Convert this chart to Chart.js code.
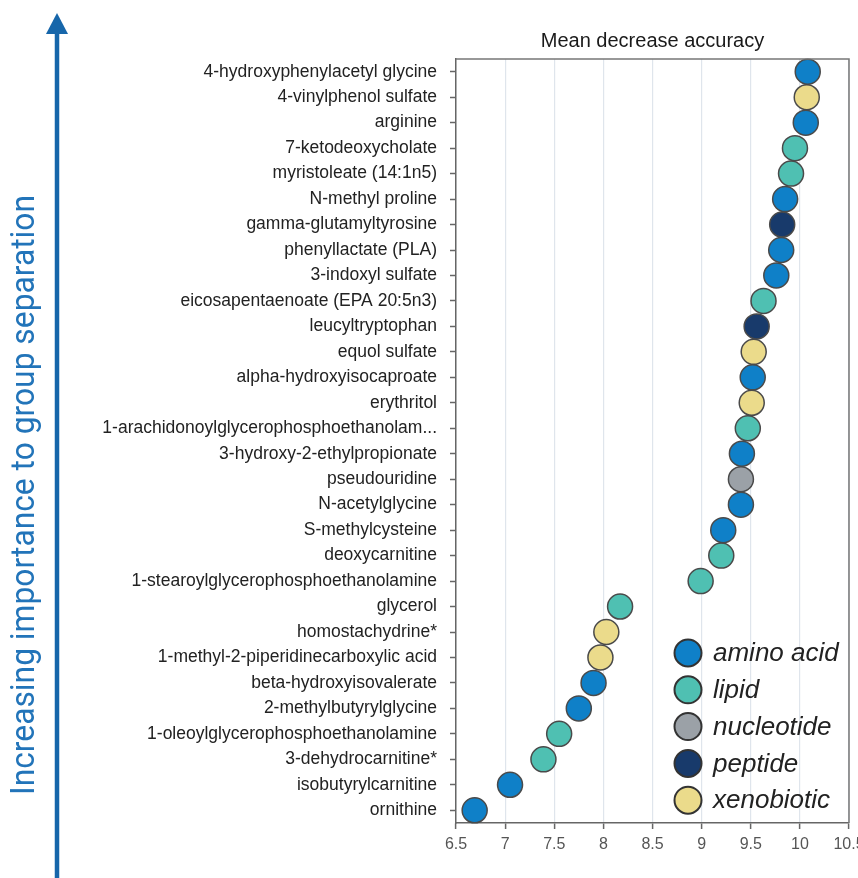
<!DOCTYPE html>
<html>
<head>
<meta charset="utf-8">
<script src="https://cdn.jsdelivr.net/npm/chart.js@4.4.1/dist/chart.umd.min.js"></script>
<style>
  html, body { margin: 0; padding: 0; background: #fff; }
  #wrap { width: 858px; height: 878px; position: relative; }
</style>
</head>
<body>
<div id="wrap"><canvas id="chart"></canvas></div>
<script>
// --- Données ---
const metabolites = [
  "4-hydroxyphenylacetyl glycine", "4-vinylphenol sulfate", "arginine",
  "7-ketodeoxycholate", "myristoleate (14:1n5)", "N-methyl proline",
  "gamma-glutamyltyrosine", "phenyllactate (PLA)", "3-indoxyl sulfate",
  "eicosapentaenoate (EPA 20:5n3)", "leucyltryptophan", "equol sulfate",
  "alpha-hydroxyisocaproate", "erythritol", "1-arachidonoylglycerophosphoethanolam...",
  "3-hydroxy-2-ethylpropionate", "pseudouridine", "N-acetylglycine",
  "S-methylcysteine", "deoxycarnitine", "1-stearoylglycerophosphoethanolamine",
  "glycerol", "homostachydrine*", "1-methyl-2-piperidinecarboxylic acid",
  "beta-hydroxyisovalerate", "2-methylbutyrylglycine", "1-oleoylglycerophosphoethanolamine",
  "3-dehydrocarnitine*", "isobutyrylcarnitine", "ornithine"
];
const accuracy = [
  10.08, 10.07, 10.06, 9.95, 9.91, 9.85, 9.82, 9.81, 9.76, 9.63,
  9.56, 9.53, 9.52, 9.51, 9.47, 9.41, 9.40, 9.40, 9.22, 9.20,
  8.99, 8.17, 8.03, 7.97, 7.90, 7.75, 7.55, 7.39, 7.05, 6.69
];
const superPathway = [
  "amino acid", "xenobiotic", "amino acid", "lipid", "lipid", "amino acid",
  "peptide", "amino acid", "amino acid", "lipid", "peptide", "xenobiotic",
  "amino acid", "xenobiotic", "lipid", "amino acid", "nucleotide", "amino acid",
  "amino acid", "lipid", "lipid", "lipid", "xenobiotic", "xenobiotic",
  "amino acid", "amino acid", "lipid", "lipid", "amino acid", "amino acid"
];
const pathwayNames = ["amino acid", "lipid", "nucleotide", "peptide", "xenobiotic"];
const pathwayColors = ["#0f80c8", "#4fc0b2", "#9ba1a7", "#183a6b", "#ebdb8b"];
const xTickValues = [6.5, 7, 7.5, 8, 8.5, 9, 9.5, 10, 10.5];

// --- Un dataset par groupe (pour la légende) ---
const datasets = pathwayNames.map((name, k) => ({
  label: name,
  data: metabolites
    .map((m, i) => ({ x: accuracy[i], y: m, p: superPathway[i] }))
    .filter(d => d.p === name),
  backgroundColor: pathwayColors[k],
  borderColor: "#4a4a4a",
  borderWidth: 1.5,
  pointRadius: 12.5,
  pointHoverRadius: 12.5
}));

// --- Décor : flèche, texte vertical, titre, cadre, légende ---
const decor = {
  id: "decor",
  afterDraw(chart) {
    const ctx = chart.ctx;
    const a = chart.chartArea;
    ctx.save();

    // cadre haut + droite
    ctx.strokeStyle = "#777";
    ctx.lineWidth = 1.5;
    ctx.beginPath();
    ctx.moveTo(a.left, a.top);
    ctx.lineTo(a.right, a.top);
    ctx.lineTo(a.right, a.bottom);
    ctx.stroke();

    // titre
    ctx.fillStyle = "#1a1a1a";
    ctx.font = "20px 'Liberation Sans', Arial, sans-serif";
    ctx.textAlign = "center";
    ctx.textBaseline = "middle";
    ctx.fillText("Mean decrease accuracy", (a.left + a.right) / 2, 41);

    // flèche
    ctx.strokeStyle = "#1666aa";
    ctx.fillStyle = "#1666aa";
    ctx.lineWidth = 4.5;
    ctx.beginPath();
    ctx.moveTo(57, 30);
    ctx.lineTo(57, 878);
    ctx.stroke();
    ctx.beginPath();
    ctx.moveTo(57, 13);
    ctx.lineTo(46, 34);
    ctx.lineTo(68, 34);
    ctx.closePath();
    ctx.fill();

    // texte vertical (condensé à 600 px)
    const txt = "Increasing importance to group separation";
    ctx.font = "34px Roboto, 'Liberation Sans', sans-serif";
    const w = ctx.measureText(txt).width;
    ctx.translate(25, 495);
    ctx.rotate(-Math.PI / 2);
    ctx.scale(600 / w, 1);
    ctx.fillStyle = "#2274b9";
    ctx.textAlign = "center";
    ctx.textBaseline = "middle";
    ctx.fillText(txt, 0, 0);
    ctx.restore();

    // légende
    ctx.save();
    const lx = a.right - 161;
    let ly = a.bottom - 170;
    ctx.font = "italic 26px 'Liberation Sans', Arial, sans-serif";
    ctx.textAlign = "left";
    ctx.textBaseline = "middle";
    chart.data.datasets.forEach(ds => {
      ctx.beginPath();
      ctx.arc(lx, ly, 13.5, 0, Math.PI * 2);
      ctx.fillStyle = ds.backgroundColor;
      ctx.fill();
      ctx.lineWidth = 2;
      ctx.strokeStyle = "#333";
      ctx.stroke();
      ctx.fillStyle = "#222";
      ctx.fillText(ds.label, lx + 25, ly + 1);
      ly += 36.8;
    });
    ctx.restore();
  }
};

new Chart(document.getElementById("chart"), {
  type: "scatter",
  data: { datasets },
  plugins: [decor],
  options: {
    responsive: true,
    maintainAspectRatio: false,
    animation: false,
    // pas de marge auto pour les points (sinon la zone rétrécit de ~14 px)
    layout: { autoPadding: false, padding: { top: 59, right: 9, left: 0, bottom: 0 } },
    plugins: {
      legend: { display: false },
      title: { display: false },
      tooltip: { enabled: false }
    },
    scales: {
      x: {
        type: "linear",
        min: 6.5,
        max: 10.5,
        afterBuildTicks: s => { s.ticks = xTickValues.map(v => ({ value: v })); },
        // 10.5 est coupé au bord, comme l'original
        afterFit: s => { s.height = 55; s.paddingLeft = 0; s.paddingRight = 0; },
        grid: { color: "#dfe5ec", lineWidth: 1.2, tickLength: 6, tickColor: "#666", tickWidth: 1.5 },
        border: { color: "#666", width: 1.5 },
        ticks: {
          autoSkip: false, maxRotation: 0, padding: 6, color: "#555",
          callback: v => String(v),
          font: { family: "'Liberation Sans', Arial, sans-serif", size: 16 }
        }
      },
      y: {
        type: "category",
        labels: metabolites,
        offset: true,
        afterFit: s => { s.width = 456; s.paddingTop = 0; s.paddingBottom = 0; },
        grid: { drawOnChartArea: false, tickLength: 6, tickColor: "#666", tickWidth: 1.5 },
        border: { color: "#666", width: 1.5 },
        ticks: {
          autoSkip: false, padding: 13, color: "#222",
          font: { family: "'Liberation Sans', Arial, sans-serif", size: 17.5 }
        }
      }
    }
  }
});
</script>
</body>
</html>
